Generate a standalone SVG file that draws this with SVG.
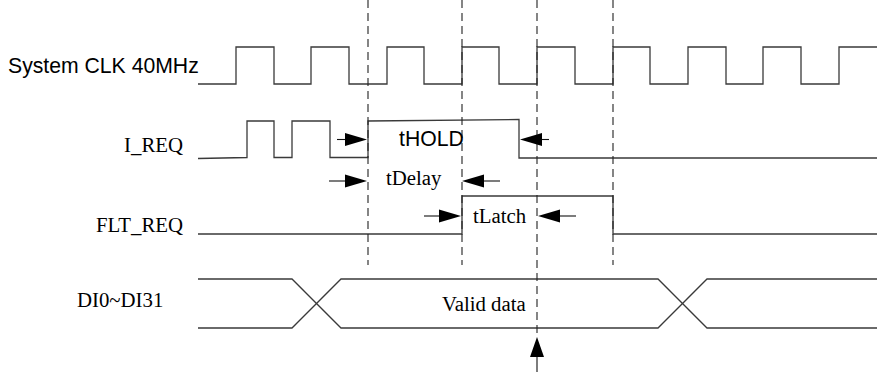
<svg xmlns="http://www.w3.org/2000/svg" width="877" height="372" viewBox="0 0 877 372">
<style>
.sig{fill:none;stroke:#3a3a3a;stroke-width:1.3}
.dash{fill:none;stroke:#222;stroke-width:1.1;stroke-dasharray:8,5}
.arr{fill:none;stroke:#111;stroke-width:1.1}
.hd{fill:#000;stroke:none}
.serif{font-family:"Liberation Serif","Times New Roman",serif;font-size:20.8px;fill:#000}
.sans{font-family:"Liberation Sans",Arial,sans-serif;font-size:21.2px;fill:#000}
</style>
<rect width="877" height="372" fill="#fff"/>
<g id="labels">
<text class="sans" x="8" y="73">System CLK 40MHz</text>
<text class="serif" x="183" y="152" text-anchor="end">I_REQ</text>
<text class="serif" x="183" y="232" text-anchor="end">FLT_REQ</text>
<text class="serif" x="77" y="307">DI0~DI31</text>
</g>
<g id="clk">
<path class="sig" d="M198,84 H236 V47 H274 V84 H311 V47 H349 V84 H387 V47 H424 V84 H462 V47 H499 V84 H537 V47 H575 V84 H613 V47 H650 V84 H688 V47 H726 V84 H763 V47 H801 V84 H839 V47 H877"/>
</g>
<g id="ireq">
<path class="sig" d="M198,158.5 L247,157.5 V121 H274 V157.5 H292 V121 H330 V157.5 H368 V121 L519,119.5 V158 H877"/>
</g>
<g id="fltreq">
<path class="sig" d="M198,234 H462 V196 H613 V234 H877"/>
</g>
<g id="bus">
<path class="sig" d="M198,279 H292 L341,328 H658 L707,279 H877"/>
<path class="sig" d="M198,328 H292 L341,279 H658 L707,328 H877"/>
<text class="serif" x="442" y="311">Valid data</text>
</g>
<g id="connectors">
<line class="dash" x1="368" y1="0" x2="368" y2="265"/>
<line class="dash" x1="462" y1="0" x2="462" y2="265"/>
<line class="dash" x1="613" y1="0" x2="613" y2="265"/>
<line class="dash" x1="537" y1="0" x2="537" y2="336"/>
<line class="arr" x1="337" y1="139.5" x2="350" y2="139.5"/>
<polygon class="hd" points="345,133 367,139.5 345,146"/>
<line class="arr" x1="535" y1="139.5" x2="549" y2="139.5"/>
<polygon class="hd" points="542,133 520,139.5 542,146"/>
<line class="arr" x1="329" y1="181" x2="350" y2="181"/>
<polygon class="hd" points="345,174.5 367,181 345,187.5"/>
<line class="arr" x1="478" y1="181" x2="500" y2="181"/>
<polygon class="hd" points="484,174.5 462,181 484,187.5"/>
<line class="arr" x1="424" y1="216" x2="445" y2="216"/>
<polygon class="hd" points="439,209.5 461,216 439,222.5"/>
<line class="arr" x1="555" y1="216" x2="576" y2="216"/>
<polygon class="hd" points="560,209.5 538,216 560,222.5"/>
<line class="arr" x1="537" y1="350" x2="537" y2="372"/>
<polygon class="hd" points="530,357 537,337 544,357"/>
<text class="sans" x="399" y="146">tHOLD</text>
<text class="serif" x="386" y="185">tDelay</text>
<text class="serif" x="473" y="223">tLatch</text>
</g>
</svg>
